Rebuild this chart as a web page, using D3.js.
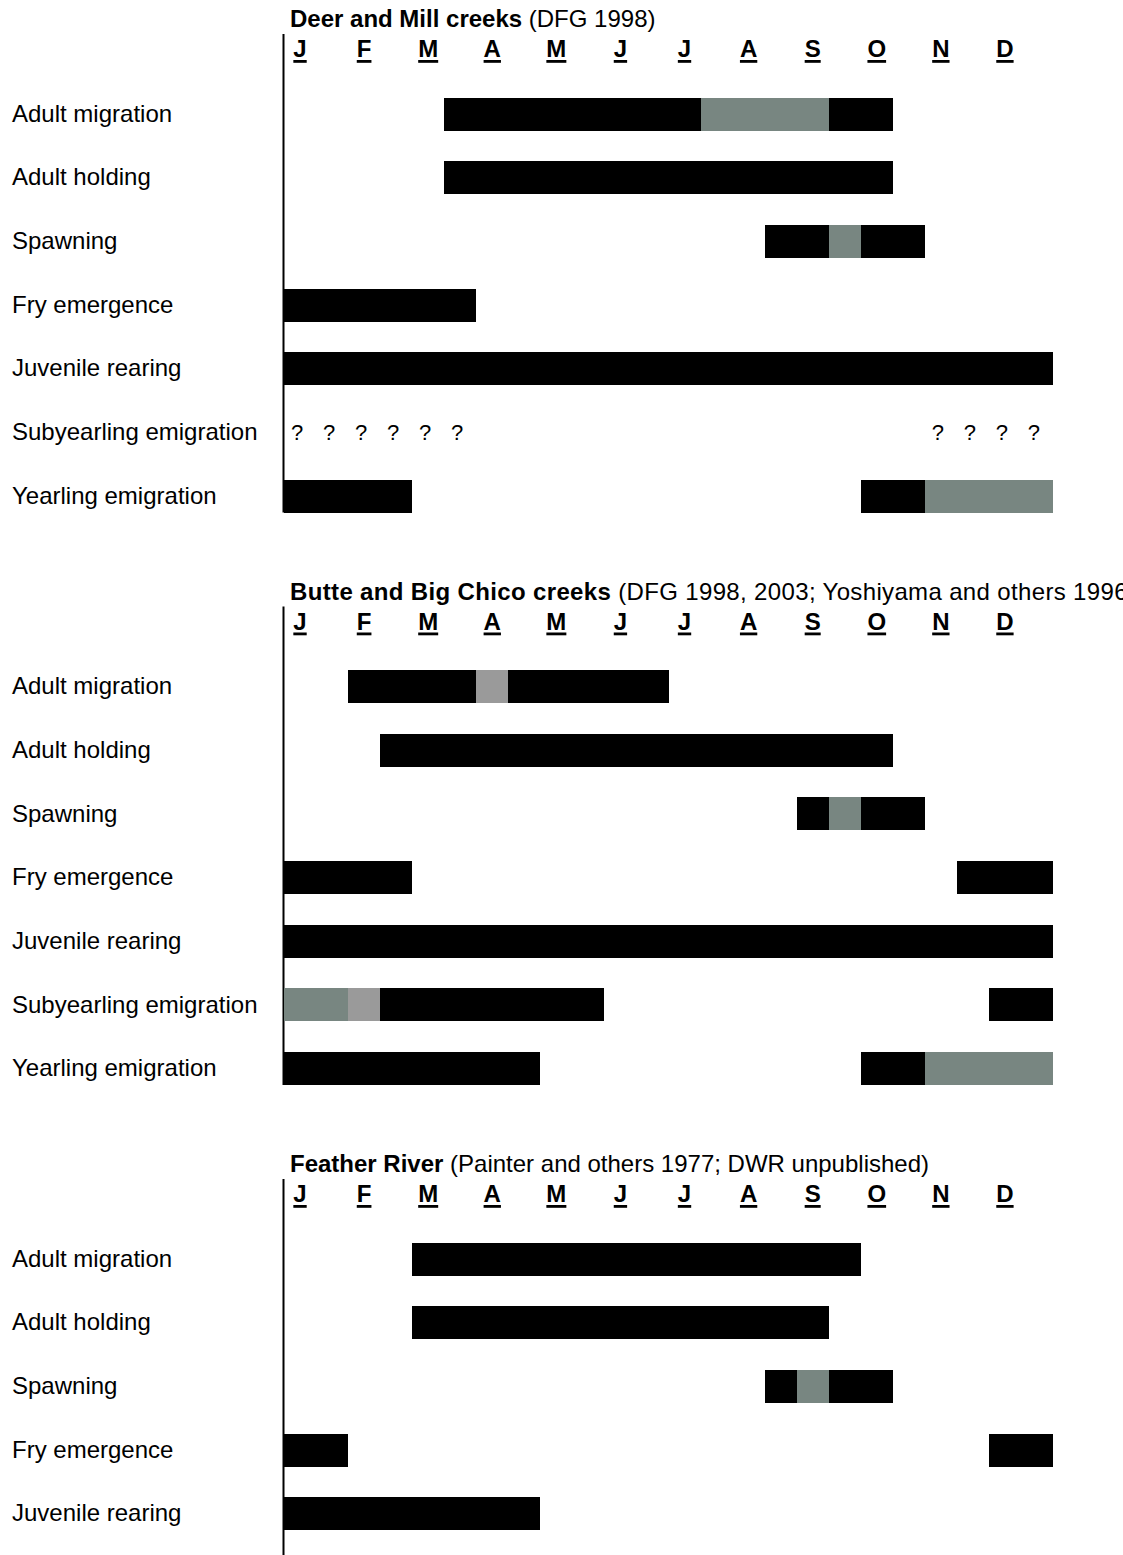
<!DOCTYPE html>
<html>
<head>
<meta charset="utf-8">
<script src="https://cdn.jsdelivr.net/npm/d3@7"></script>
<style>
  html, body { margin: 0; padding: 0; background: #fff; }
  svg { display: block; }
  text { font-family: "Liberation Sans", Arial, Helvetica, sans-serif; fill: #000; }
</style>
</head>
<body>
<svg id="chart" width="1123" height="1555"></svg>
<script>
// ---------- DATA ----------
const monthLabels = ["J","F","M","A","M","J","J","A","S","O","N","D"];
const stages = ["Adult migration","Adult holding","Spawning","Fry emergence",
                "Juvenile rearing","Subyearling emigration","Yearling emigration"];
const stagesFeather = ["Adult migration","Adult holding","Spawning","Fry emergence","Juvenile rearing"];

const panelTitlesBold = ["Deer and Mill creeks","Butte and Big Chico creeks","Feather River"];
const panelTitlesRest = [" (DFG 1998)",
                         " (DFG 1998, 2003; Yoshiyama and others 1996)",
                         " (Painter and others 1977; DWR unpublished)"];

// segments: [stage index, start month, end month, kind]  kind: b=black, g=gray-green, l=light gray
const deerMillSegments = [
  [0, 2.5, 6.5, "b"], [0, 6.5, 8.5, "g"], [0, 8.5, 9.5, "b"],
  [1, 2.5, 9.5, "b"],
  [2, 7.5, 8.5, "b"], [2, 8.5, 9.0, "g"], [2, 9.0, 10.0, "b"],
  [3, 0, 3, "b"],
  [4, 0, 12, "b"],
  [6, 0, 2, "b"], [6, 9, 10, "b"], [6, 10, 12, "g"]
];
const deerMillQuestions = [[5, 0],[5, 0.5],[5, 1],[5, 1.5],[5, 2],[5, 2.5],
                           [5, 10],[5, 10.5],[5, 11],[5, 11.5]];

const butteSegments = [
  [0, 1, 3, "b"], [0, 3, 3.5, "l"], [0, 3.5, 6, "b"],
  [1, 1.5, 9.5, "b"],
  [2, 8, 8.5, "b"], [2, 8.5, 9, "g"], [2, 9, 10, "b"],
  [3, 0, 2, "b"], [3, 10.5, 12, "b"],
  [4, 0, 12, "b"],
  [5, 0, 1, "g"], [5, 1, 1.5, "l"], [5, 1.5, 5, "b"], [5, 11, 12, "b"],
  [6, 0, 4, "b"], [6, 9, 10, "b"], [6, 10, 12, "g"]
];

const featherSegments = [
  [0, 2, 9, "b"],
  [1, 2, 8.5, "b"],
  [2, 7.5, 8, "b"], [2, 8, 8.5, "g"], [2, 8.5, 9.5, "b"],
  [3, 0, 1, "b"], [3, 11, 12, "b"],
  [4, 0, 4, "b"]
];

// ---------- LAYOUT ----------
const kindColor = { b: "#000000", g: "#788681", l: "#9a9a9a" };
const titleSpacing = ["0px", "0.35px", "0px"];
const svg = d3.select("#chart");
const x = d3.scaleLinear().domain([0, 12]).range([284, 1053]);
const panelOffsets = [0, 572.5, 1145];
const rowY = d3.scalePoint().domain(d3.range(7)).range([114, 496]); // row centers
const barH = 33;

const panels = [
  { labels: stages, segs: deerMillSegments, qs: deerMillQuestions },
  { labels: stages, segs: butteSegments, qs: [] },
  { labels: stagesFeather, segs: featherSegments, qs: [] }
];

panels.forEach((p, pi) => {
  const g = svg.append("g").attr("transform", `translate(0,${panelOffsets[pi]})`);

  // title
  const t = g.append("text").attr("x", 290).attr("y", 27)
    .style("font-size", "24px").style("letter-spacing", titleSpacing[pi]);
  t.append("tspan").style("font-weight", "bold").text(panelTitlesBold[pi]);
  t.append("tspan").text(panelTitlesRest[pi]);

  // vertical axis line
  g.append("line")
    .attr("x1", x(0) - 0.5).attr("x2", x(0) - 0.5)
    .attr("y1", 34).attr("y2", rowY(6) + barH / 2)
    .attr("stroke", "#000").attr("stroke-width", 2);

  // month labels with underline
  const mg = g.selectAll("g.month").data(monthLabels).join("g").attr("class", "month");
  mg.append("text")
    .attr("x", (d, i) => x(i + 0.25))
    .attr("y", 57)
    .attr("text-anchor", "middle")
    .style("font-size", "24px").style("font-weight", "bold")
    .text(d => d);
  mg.each(function() {
    const tx = d3.select(this).select("text");
    const bb = tx.node().getBBox();
    d3.select(this).append("rect")
      .attr("x", bb.x).attr("width", bb.width)
      .attr("y", 60).attr("height", 2.8).attr("fill", "#000");
  });

  // row labels
  g.selectAll("text.stage").data(p.labels).join("text")
    .attr("class", "stage")
    .attr("x", 12)
    .attr("y", (d, i) => rowY(i) + 7.8)
    .style("font-size", "24px")
    .text(d => d);

  // bars
  g.selectAll("rect.seg").data(p.segs).join("rect")
    .attr("class", "seg")
    .attr("x", d => x(d[1]))
    .attr("width", d => x(d[2]) - x(d[1]))
    .attr("y", d => rowY(d[0]) - barH / 2)
    .attr("height", barH)
    .attr("fill", d => kindColor[d[3]])
    .attr("shape-rendering", "crispEdges");

  // question marks
  g.selectAll("text.q").data(p.qs).join("text")
    .attr("class", "q")
    .attr("x", d => x(d[1]) + 13)
    .attr("y", d => rowY(d[0]) + 8)
    .attr("text-anchor", "middle")
    .style("font-family", "'Liberation Sans Narrow', 'Liberation Sans', Arial, sans-serif")
    .style("font-size", "22px")
    .text("?");
});
</script>
</body>
</html>
